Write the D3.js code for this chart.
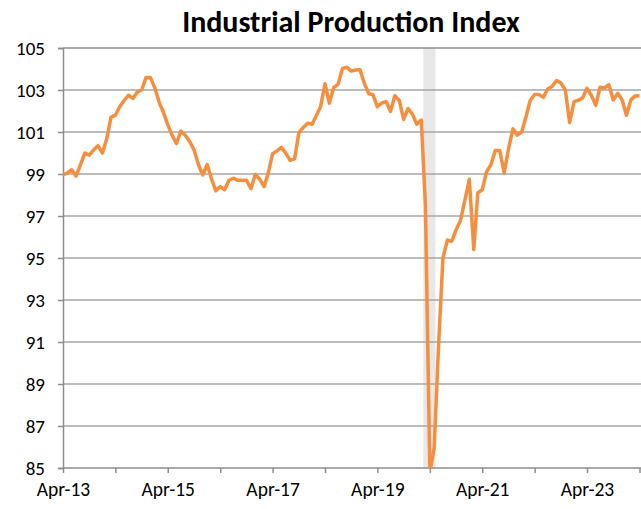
<!DOCTYPE html>
<html>
<head>
<meta charset="utf-8">
<script src="https://cdn.jsdelivr.net/npm/d3@7"></script>
<style>
  body { margin: 0; background: #fff; }
  text { font-family: Carlito, Lato, "Open Sans", sans-serif; }
</style>
</head>
<body>
<div id="chart"></div>
<script>
// svg size
var width = 641, height = 509;
var margin = {top: 48, right: 1, bottom: 41, left: 63};

// data - monthly index, Apr-13 .. Apr-24
var startMonth = "2013-04";
var values = [
    98.95, 99.05, 99.2, 98.9, 99.45, 100.0, 99.9, 100.15, 100.35, 100.0, 100.7, 101.7,
    101.8, 102.2, 102.5, 102.75, 102.6, 102.9, 103.0, 103.6, 103.6, 103.1, 102.4, 101.95,
    101.35, 100.85, 100.45, 101.05, 100.85, 100.55, 100.15, 99.45, 98.95, 99.45, 98.75, 98.2,
    98.4, 98.25, 98.7, 98.8, 98.7, 98.7, 98.7, 98.3, 98.98, 98.75, 98.4, 99.03,
    99.97, 100.1, 100.27, 100.0, 99.65, 99.72, 100.97, 101.22, 101.42, 101.37, 101.8, 102.2,
    103.3, 102.37, 103.12, 103.27, 104.03, 104.08, 103.9, 103.95, 103.97, 103.3, 102.82, 102.78,
    102.2, 102.38, 102.45, 101.98, 102.73, 102.5, 101.6, 102.12, 101.85, 101.37, 101.57, 97.5,
    84.8, 85.95, 90.9, 95.0, 95.85, 95.8, 96.35, 96.8, 97.75, 98.75, 95.4, 98.1,
    98.25, 99.1, 99.45, 100.12, 100.12, 99.05, 100.2, 101.15, 100.85, 101.0, 101.75, 102.5,
    102.78, 102.78, 102.65, 103.05, 103.17, 103.45, 103.33, 103.0, 101.45, 102.45, 102.52, 102.62,
    103.08, 102.75, 102.27, 103.13, 103.1, 103.25, 102.52, 102.84, 102.55, 101.8, 102.53, 102.72,
    102.73
];

// recession shading
var recession = ["2020-02-15", "2020-05-10"];

// axis ticks
var yTicks = [85, 87, 89, 91, 93, 95, 97, 99, 101, 103, 105];
var xTickYears = [2013, 2014, 2015, 2016, 2017, 2018, 2019, 2020, 2021, 2022, 2023, 2024];
var xLabelYears = [2013, 2015, 2017, 2019, 2021, 2023];

var parseMonth = d3.timeParse("%Y-%m");
var parseDay = d3.timeParse("%Y-%m-%d");
var t0 = parseMonth(startMonth);

var data = values.map(function(v, i){
    return {date: d3.timeMonth.offset(t0, i), value: v};
});

var svg = d3.select("#chart")
            .append("svg")
            .attr("width", width)
            .attr("height", height);

var x = d3.scaleTime()
            .domain([t0, parseMonth("2024-04")])
            .range([margin.left, 639.5]);

var y = d3.scaleLinear()
            .domain([85, 105])
            .range([height - margin.bottom, margin.top]);

// recession band
svg.append("rect")
    .attr("x", x(parseDay(recession[0])))
    .attr("width", x(parseDay(recession[1])) - x(parseDay(recession[0])))
    .attr("y", y(105))
    .attr("height", y(85) - y(105))
    .attr("fill", "#e8e8e8");

// gridlines
svg.append("g")
    .attr("class", "grid")
    .selectAll("line")
    .data(yTicks.slice(1))
    .enter()
        .append("line")
        .attr("x1", margin.left)
        .attr("x2", width)
        .attr("y1", function(d){ return y(d); })
        .attr("y2", function(d){ return y(d); })
        .style("stroke", function(d){ return d == 105 ? "#8c8c8c" : "#a6a6a6"; })
        .style("stroke-width", 1.5);

// y axis
var yAxis = svg.append("g")
    .attr("transform", "translate(" + margin.left + ",0)")
    .call(d3.axisLeft(y).tickValues(yTicks).tickSize(5).tickPadding(13).tickFormat(d3.format("d")));
yAxis.select(".domain").style("stroke", "#8c8c8c").style("stroke-width", 1.5);
yAxis.selectAll(".tick line").style("stroke", "#8c8c8c").style("stroke-width", 1.5);
yAxis.selectAll("text").style("font-size", "19px").style("fill", "#000");

// x axis
var xAxis = svg.append("g")
    .attr("transform", "translate(0," + y(85) + ")")
    .call(d3.axisBottom(x)
            .tickValues(xTickYears.map(function(yr){ return new Date(yr, 3, 1); }))
            .tickSize(5)
            .tickPadding(9)
            .tickFormat(function(d){
                return xLabelYears.indexOf(d.getFullYear()) >= 0 ? d3.timeFormat("%b-%y")(d) : "";
            }));
xAxis.select(".domain").attr("d", "M" + margin.left + ",0H" + width).style("stroke", "#8c8c8c").style("stroke-width", 1.5);
xAxis.selectAll(".tick line").style("stroke", "#8c8c8c").style("stroke-width", 1.5);
xAxis.selectAll("text").style("font-size", "19.5px").style("fill", "#000");

// clip to plot area
svg.append("clipPath")
    .attr("id", "plot-clip")
    .append("rect")
        .attr("x", margin.left)
        .attr("y", y(105) - 3)
        .attr("width", width - margin.left)
        .attr("height", y(85) - y(105) + 3);

var line = d3.line()
            .x(function(d){ return x(d.date); })
            .y(function(d){ return y(d.value); });

svg.append("path")
    .datum(data)
    .attr("clip-path", "url(#plot-clip)")
    .attr("d", line)
    .attr("fill", "none")
    .style("stroke", "#f58e3f")
    .style("stroke-width", 3.5)
    .style("stroke-linejoin", "round");

// title
svg.append("text")
    .attr("x", 351)
    .attr("y", 32)
    .attr("text-anchor", "middle")
    .style("font-size", "30px")
    .style("font-weight", "bold")
    .text("Industrial Production Index");
</script>
</body>
</html>
